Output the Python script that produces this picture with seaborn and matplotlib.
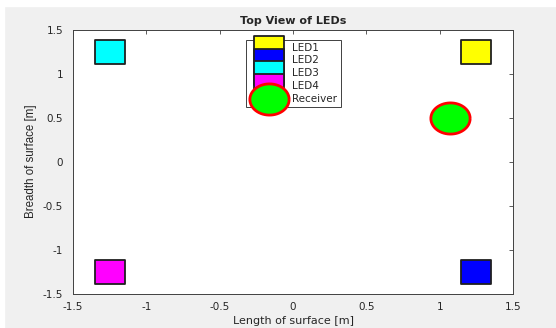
import numpy as np
import pandas as pd
import matplotlib
matplotlib.use("Agg")
import matplotlib.pyplot as plt
import seaborn as sns
from matplotlib.path import Path
from matplotlib.patches import Rectangle

# positions of the LEDs and the receiver (metres)
names = ["LED1", "LED2", "LED3", "LED4", "Receiver"]
xs = [1.25, 1.25, -1.25, -1.25, 1.07]
ys = [1.25, -1.25, 1.25, -1.25, 0.5]
fills = ["#ffff00", "#0000ff", "#00ffff", "#ff00ff", "#00ff00"]
edges = ["#202020", "#202020", "#202020", "#202020", "#ff0000"]
ticks = [-1.5, -1, -0.5, 0, 0.5, 1, 1.5]
tick_labels = ["-1.5", "-1", "-0.5", "0", "0.5", "1", "1.5"]

df = pd.DataFrame({"name": names, "x": xs, "y": ys})

sns.set_style("white")
# DejaVu is wider than Arial, which fits the sideways-stretched original
plt.rcParams["font.family"] = ["DejaVu Sans"]

# the original picture is stretched sideways, so squares/circles are wider than tall
stretch = 1.26
sq = Path([(-stretch, -1), (stretch, -1), (stretch, 1), (-stretch, 1), (-stretch, -1)],
          [Path.MOVETO, Path.LINETO, Path.LINETO, Path.LINETO, Path.CLOSEPOLY])
t = np.linspace(0, 2 * np.pi, 60)
ell = Path(np.column_stack([stretch * np.cos(t), np.sin(t)]))

fig = plt.figure(figsize=(5.56, 3.28), dpi=100, facecolor="#f0f0f0")
fig.add_artist(Rectangle((0, 0.982), 1, 0.02, transform=fig.transFigure, color="white", zorder=0))
fig.add_artist(Rectangle((0, 0), 0.008, 1, transform=fig.transFigure, color="white", zorder=0))
ax = fig.add_axes([0.131, 0.105, 0.792, 0.805])
ax.set_facecolor("white")

for i, row in df.iterrows():
    if row["name"] == "Receiver":
        sns.scatterplot(x=[row["x"]], y=[row["y"]], marker=ell, s=800, color=fills[i],
                        edgecolor=edges[i], linewidth=2, label=row["name"], ax=ax, zorder=3)
    else:
        sns.scatterplot(x=[row["x"]], y=[row["y"]], marker=sq, s=440, color=fills[i],
                        edgecolor=edges[i], linewidth=1.3, label=row["name"], ax=ax, zorder=3)

ax.set_xlim(-1.5, 1.5)
ax.set_ylim(-1.5, 1.5)
ax.set_xticks(ticks)
ax.set_xticklabels(tick_labels)
ax.set_yticks(ticks)
ax.set_yticklabels(tick_labels)
ax.tick_params(direction="in", length=3, width=0.6, color="#404040", labelsize=7.5,
               labelcolor="#262626", top=True, right=True)
ax.tick_params(axis="x", pad=6)
ax.tick_params(axis="y", pad=7)
for sp in ax.spines.values():
    sp.set_color("#404040")
    sp.set_linewidth(0.7)

ax.set_title("Top View of LEDs", fontsize=8, fontweight="bold", pad=4)
ax.set_xlabel("Length of surface [m]", fontsize=8, color="#262626", labelpad=3)
ax.set_ylabel("Breadth of surface [m]", fontsize=8.3, color="#262626", labelpad=4,
              family="Liberation Sans")

leg = ax.legend(loc="upper center", bbox_to_anchor=(0.5, 0.962), fontsize=7.5,
                labelspacing=0.26, handlelength=3.9, handletextpad=0.3,
                borderpad=0.3, borderaxespad=0, frameon=True, fancybox=False, framealpha=1)
leg.get_frame().set_edgecolor("#404040")
leg.get_frame().set_linewidth(0.7)
leg.set_zorder(5)

fig.savefig("out.png", dpi=100, facecolor=fig.get_facecolor())
